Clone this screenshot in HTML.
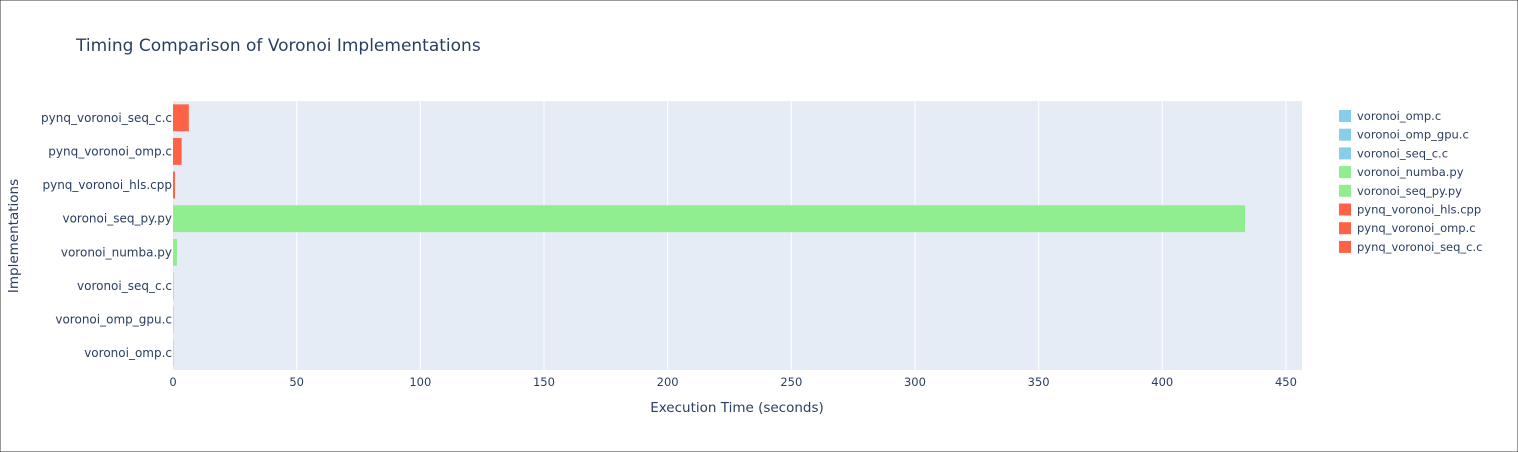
<!DOCTYPE html>
<html><head><meta charset="utf-8"><style>
body{margin:0;background:#fff;}
svg{display:block;font-family:"DejaVu Sans","Liberation Sans",sans-serif;}
</style></head><body>
<svg id="c" width="1518" height="452">
<rect x="0" y="0" width="1518" height="452" fill="#fff" stroke="#333" stroke-width="1"/>
<text x="76" y="51" font-size="17" fill="#2a3f5f">Timing Comparison of Voronoi Implementations</text>
<rect x="173" y="101" width="1129" height="269" fill="#e5ecf6"/>
<g id="grid"></g><g id="bars"></g><g id="xt"></g><g id="yt"></g><g id="leg"></g>
<text x="737" y="412" font-size="13.5" fill="#2a3f5f" text-anchor="middle">Execution Time (seconds)</text>
<text transform="translate(18,236) rotate(-90)" font-size="13.5" fill="#2a3f5f" text-anchor="middle">Implementations</text>
</svg>
<script>
const categories=["voronoi_omp.c","voronoi_omp_gpu.c","voronoi_seq_c.c","voronoi_numba.py","voronoi_seq_py.py","pynq_voronoi_hls.cpp","pynq_voronoi_omp.c","pynq_voronoi_seq_c.c"];
const values=[0.15,0.2,0.25,1.6,433.5,0.8,3.5,6.4];
const colors=["#87ceeb","#87ceeb","#87ceeb","#90ee90","#90ee90","#ff6347","#ff6347","#ff6347"];
const xTicks=[0,50,100,150,200,250,300,350,400,450];
const NS="http://www.w3.org/2000/svg";
const X0=173,Y0=101,H=269,W=1129,XMAX=456.5;
const xs=v=>X0+v/XMAX*W;
const band=H/categories.length;
const ys=i=>Y0+H-(i+1)*band;
function mk(t,a,p){const e=document.createElementNS(NS,t);for(const k in a)e.setAttribute(k,a[k]);document.getElementById(p).appendChild(e);return e;}
xTicks.forEach(t=>{
 if(t>0){const g=mk('line',{x1:xs(t),x2:xs(t),y1:Y0,y2:Y0+H,stroke:'#fff','stroke-width':1},'grid');
 
 }
 const l=mk('text',{x:xs(t),y:Y0+H+16,'font-size':11.5,fill:'#2a3f5f','text-anchor':'middle'},'xt');l.textContent=t;
 
 
});
categories.forEach((c,i)=>{
 const y=ys(i);
 const b=mk('rect',{x:X0,y:y+band*0.1,width:Math.max(xs(values[i])-X0,0.5),height:band*0.8,fill:colors[i]},'bars');
 
 
 const t=mk('text',{x:X0-1,y:y+band/2+4,'font-size':12,fill:'#2a3f5f','text-anchor':'end'},'yt');t.textContent=c;
 
 
 const ly=116+i*18.7;
 const s=mk('rect',{x:1339,y:ly-6,width:12,height:12,fill:colors[i]},'leg');
 
 
 const lt=mk('text',{x:1357,y:ly+4,'font-size':11.5,fill:'#2a3f5f'},'leg');lt.textContent=c;
 
 
});
</script>
</body></html>
